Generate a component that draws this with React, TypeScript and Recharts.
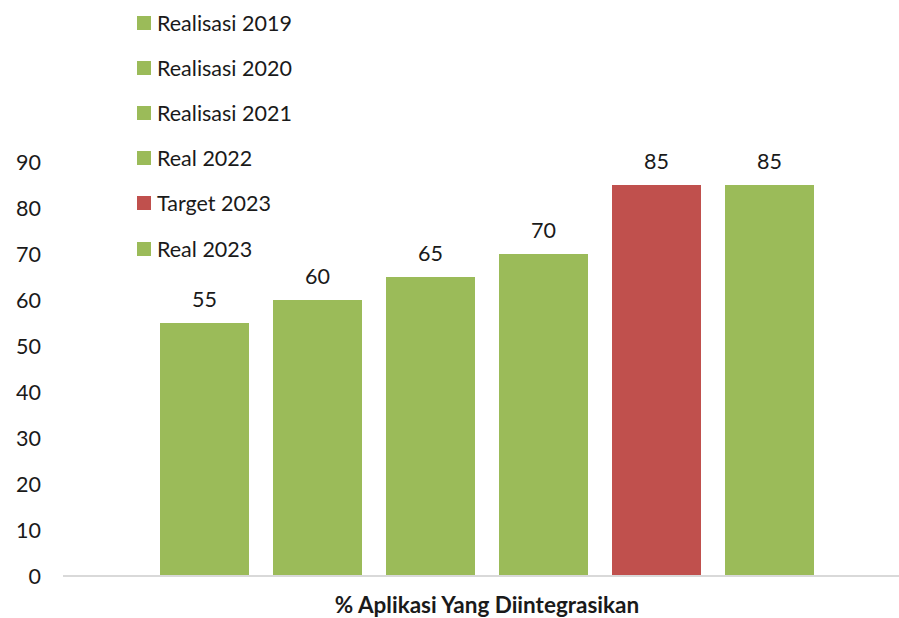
import { Bar, BarChart, LabelList, XAxis, YAxis } from "recharts"

const category = "% Aplikasi Yang Diintegrasikan"
const seriesNames = ["Realisasi 2019", "Realisasi 2020", "Realisasi 2021", "Real 2022", "Target 2023", "Real 2023"]
const seriesValues = [55, 60, 65, 70, 85, 85]
const seriesColors = ["#9BBB59", "#9BBB59", "#9BBB59", "#9BBB59", "#C0504D", "#9BBB59"]
const yTicks = [0, 10, 20, 30, 40, 50, 60, 70, 80, 90]

const FONT = "Lato, 'Open Sans', sans-serif"
const TEXT = "#1a1a1a"

export default function App() {
  const row: Record<string, string | number> = { name: category }
  seriesNames.forEach((s, i) => {
    row[s] = seriesValues[i]
  })
  const data = [row]

  return (
    <div style={{ position: "absolute", left: 0, top: 0, width: 899, height: 618, overflow: "hidden", background: "#fff" }}>
      <BarChart width={920} height={618} data={data} margin={{ top: 162, right: 9, bottom: 0, left: 0 }} barGap={24}>
        <YAxis
          domain={[0, 90]}
          ticks={yTicks}
          width={63}
          tickLine={false}
          axisLine={false}
          tickMargin={16}
          tick={{ fill: TEXT, fontSize: 21.5, fontFamily: FONT }}
        />
        <XAxis
          dataKey="name"
          height={42}
          tickLine={false}
          axisLine={{ stroke: "#D9D9D9", strokeWidth: 2 }}
          tickMargin={15}
          tick={{ fill: TEXT, fontSize: 22.5, fontWeight: 700, fontFamily: FONT }}
        />
        {seriesNames.map((s, i) => (
          <Bar key={s} dataKey={s} name={s} fill={seriesColors[i]} barSize={89} isAnimationActive={false}>
            <LabelList dataKey={s} position="top" offset={16} fill={TEXT} fontSize={21.5} fontFamily={FONT} />
          </Bar>
        ))}
      </BarChart>
      {/* legend sits over the plot, like the original */}
      <div style={{ position: "absolute", left: 137, top: 0, fontFamily: FONT, fontSize: 21.5, color: TEXT }}>
        {seriesNames.map((s, i) => (
          <div key={s} style={{ display: "flex", alignItems: "center", height: 45.2 }}>
            <span style={{ width: 14, height: 14, background: seriesColors[i], marginRight: 6, display: "inline-block" }} />
            <span>{s}</span>
          </div>
        ))}
      </div>
    </div>
  )
}
